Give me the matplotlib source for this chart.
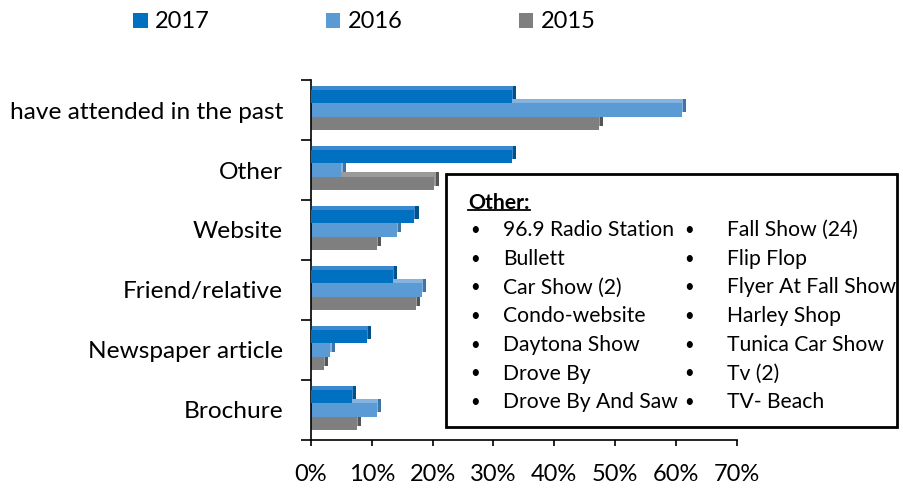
import numpy as np
import matplotlib
matplotlib.use("Agg")
import matplotlib.pyplot as plt
import matplotlib.patheffects as pe
from matplotlib.ticker import PercentFormatter

# data
kategorier = ["have attended in the past", "Other", "Website",
              "Friend/relative", "Newspaper article", "Brochure"]
ar = ["2017", "2016", "2015"]
v2017 = [0.33, 0.33, 0.17, 0.135, 0.092, 0.067]
v2016 = [0.61, 0.05, 0.141, 0.183, 0.032, 0.108]
v2015 = [0.474, 0.203, 0.109, 0.172, 0.021, 0.075]

ovrigt_v = ["96.9 Radio Station", "Bullett", "Car Show (2)", "Condo-website",
            "Daytona Show", "Drove By", "Drove By And Saw"]
ovrigt_h = ["Fall Show (24)", "Flip Flop", "Flyer At Fall Show", "Harley Shop",
            "Tunica Car Show", "Tv (2)", "TV- Beach"]

farger = ["#0070C0", "#5B9BD5", "#7F7F7F"]
sidor = ["#00508a", "#3f74a6", "#555555"]
toppar = ["#3d87cc", "#84b3df", "#9a9a9a"]

plt.rcParams['font.family'] = ['Lato', 'DejaVu Sans']
storlek = 17.6
rutstorlek = 15.2

fig = plt.figure(figsize=(9.04, 4.91), dpi=100)
ax = fig.add_axes([0.344, 0.104, 0.471, 0.733])

y = np.arange(len(kategorier))
h = 0.22
serier = [v2017, v2016, v2015]
# draw 2015 first so the upper bars cover the depth of the lower ones
for i in [2, 1, 0]:
    bars = ax.barh(y + (i - 1) * h, serier[i], height=h, color=farger[i],
                   label=ar[i], zorder=3 - i)
    for b in bars:
        b.set_path_effects([
            pe.SimplePatchShadow(offset=(3.0, 3.0), shadow_rgbFace=sidor[i], alpha=1),
            pe.SimplePatchShadow(offset=(0.8, 3.0), shadow_rgbFace=toppar[i], alpha=1),
            pe.Normal()])

ax.set_ylim(len(kategorier) - 0.5, -0.5)
ax.set_xlim(0, 0.7)
ax.set_xticks(np.arange(0, 0.71, 0.1))
ax.xaxis.set_major_formatter(PercentFormatter(1.0, decimals=0))
ax.set_yticks(y)
ax.set_yticklabels(kategorier)
ax.set_yticks(np.arange(-0.5, len(kategorier), 1), minor=True)
ax.tick_params(axis='y', which='major', length=0, pad=20, labelsize=storlek)
ax.tick_params(axis='y', which='minor', length=7, width=1.2, direction='out')
ax.tick_params(axis='x', length=4, width=1.2, direction='out', pad=13, labelsize=17)
for s in ['top', 'right']:
    ax.spines[s].set_visible(False)
for s in ['left', 'bottom']:
    ax.spines[s].set_linewidth(1.2)

handles, labels = ax.get_legend_handles_labels()
ordning = [labels.index(a) for a in ar]
leg = fig.legend([handles[k] for k in ordning], [labels[k] for k in ordning],
                 loc='upper left', bbox_to_anchor=(0.124, 1.02), ncol=3, frameon=False,
                 fontsize=17, handlelength=0.6, handleheight=0.6, handletextpad=0.3,
                 columnspacing=4.95)
for hd in leg.legend_handles:
    hd.set_path_effects([])

# text box with the "Other" answers
ruta = plt.Rectangle((446 / 904, 1 - 427 / 491), 451 / 904, 253 / 491,
                     transform=fig.transFigure, facecolor='white',
                     edgecolor='black', linewidth=2, zorder=10)
fig.patches.append(ruta)
rubrik = fig.text(468 / 904, 1 - 203 / 491, "Other:", fontsize=rutstorlek,
                  fontweight='bold', va='center', zorder=11)
steg = 28.7
for k, (a, b) in enumerate(zip(ovrigt_v, ovrigt_h)):
    yy = 1 - (230 + k * steg) / 491
    fig.text(470 / 904, yy, "•", fontsize=12, va='center', zorder=11)
    fig.text(503 / 904, yy, a, fontsize=rutstorlek, va='center', zorder=11)
    fig.text(684 / 904, yy, "•", fontsize=12, va='center', zorder=11)
    fig.text(727 / 904, yy, b, fontsize=rutstorlek, va='center', zorder=11)

fig.canvas.draw()
bb = rubrik.get_window_extent().transformed(fig.transFigure.inverted())
fig.add_artist(plt.Line2D([bb.x0, bb.x1], [bb.y0 + 0.006, bb.y0 + 0.006],
                          transform=fig.transFigure, color='black',
                          linewidth=1.3, zorder=11))

fig.savefig("out.png", dpi=100)
